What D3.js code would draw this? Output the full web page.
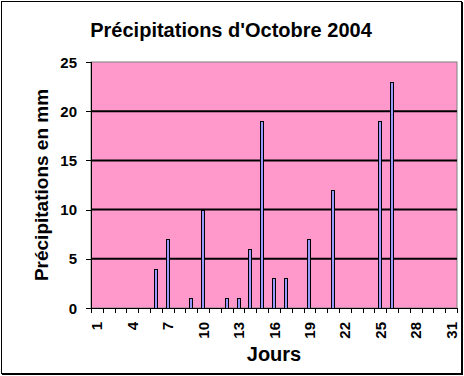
<!DOCTYPE html>
<html lang="fr">
<head>
<meta charset="UTF-8">
<title>Précipitations d'Octobre 2004</title>
<style>
  body, html { margin: 0; padding: 0; background: #fff; }
  text { font-family: "Liberation Sans", Arial, sans-serif; font-weight: bold; fill: #000; }
</style>
</head>
<body>
<svg id="svg" width="464" height="376"></svg>
<script src="https://d3js.org/d3.v7.min.js"></script>
<script>
// données
const days = d3.range(1, 32)
const rainDays = [6, 7, 9, 10, 12, 13, 14, 15, 16, 17, 19, 21, 25, 26]
const rainMm = [4, 7, 1, 10, 1, 1, 6, 19, 3, 3, 7, 12, 19, 23]
const yTicks = [0, 5, 10, 15, 20, 25]
const xLabels = [1, 4, 7, 10, 13, 16, 19, 22, 25, 28, 31]

const svg = d3.select('#svg')
const plotL = 91, plotR = 457, plotT = 62, plotB = 308

// cadre extérieur
svg.append('rect')
  .attr('x', 1.5).attr('y', 1.5)
  .attr('width', 460).attr('height', 372)
  .attr('fill', '#fff').attr('stroke', '#000').attr('stroke-width', 1)
svg.append('line').attr('x1', 462.5).attr('x2', 462.5).attr('y1', 2).attr('y2', 375)
  .attr('stroke', '#000')
svg.append('line').attr('x1', 2).attr('x2', 463).attr('y1', 374.5).attr('y2', 374.5)
  .attr('stroke', '#000')

const x = d3.scaleBand().domain(days).range([plotL, plotR]).padding(0)
const y = d3.scaleLinear().domain([0, 25]).range([plotB, plotT])

// zone de traçage
svg.append('rect')
  .attr('x', plotL).attr('y', plotT)
  .attr('width', plotR - plotL).attr('height', plotB - plotT)
  .attr('fill', '#FF99CC')
  .attr('stroke', '#808080').attr('stroke-width', 1)

// quadrillage
svg.append('g')
  .selectAll('line')
  .data(yTicks.filter(d => d > 0 && d < 25))
  .enter()
  .append('line')
  .attr('x1', plotL).attr('x2', plotR)
  .attr('y1', d => y(d)).attr('y2', d => y(d))
  .attr('stroke', '#000').attr('stroke-width', 2)

// barres
const barW = 4
svg.append('g')
  .selectAll('rect')
  .data(rainDays.map((d, i) => ({ day: d, mm: rainMm[i] })))
  .enter()
  .append('rect')
  .attr('x', d => Math.round(x(d.day) + x.bandwidth() / 2 - barW / 2) + 0.5)
  .attr('y', d => Math.round(y(d.mm)) + 0.5)
  .attr('width', barW - 1)
  .attr('height', d => Math.round(plotB - y(d.mm)))
  .attr('fill', '#9999FF')
  .attr('stroke', '#000').attr('stroke-width', 1)

// axe Y
svg.append('line')
  .attr('x1', plotL + 0.5).attr('x2', plotL + 0.5)
  .attr('y1', plotT).attr('y2', plotB)
  .attr('stroke', '#000')
const yAxis = svg.append('g')
yAxis.selectAll('line')
  .data(yTicks)
  .enter()
  .append('line')
  .attr('x1', plotL - 5).attr('x2', plotL)
  .attr('y1', d => Math.round(y(d)) + 0.5).attr('y2', d => Math.round(y(d)) + 0.5)
  .attr('stroke', '#000')
yAxis.selectAll('text')
  .data(yTicks)
  .enter()
  .append('text')
  .attr('x', 77)
  .attr('y', d => y(d) + 5.5)
  .attr('text-anchor', 'end')
  .style('font-size', '15px')
  .text(d => d)

// axe X
svg.append('line')
  .attr('x1', plotL).attr('x2', plotR)
  .attr('y1', plotB + 0.5).attr('y2', plotB + 0.5)
  .attr('stroke', '#000')
const xAxis = svg.append('g')
xAxis.selectAll('line')
  .data(days.concat([32]))
  .enter()
  .append('line')
  .attr('x1', d => Math.round(d <= 31 ? x(d) : plotR) + 0.5)
  .attr('x2', d => Math.round(d <= 31 ? x(d) : plotR) + 0.5)
  .attr('y1', plotB).attr('y2', plotB + 5)
  .attr('stroke', '#000')
xAxis.selectAll('text')
  .data(xLabels)
  .enter()
  .append('text')
  .attr('transform', d => `translate(${x(d) + x.bandwidth() / 2 + 5.5},${plotB + 14}) rotate(-90)`)
  .attr('text-anchor', 'end')
  .style('font-size', '15px')
  .text(d => d)

// titres
svg.append('text')
  .attr('x', 231).attr('y', 37)
  .attr('text-anchor', 'middle')
  .style('font-size', '20px')
  .text("Précipitations d'Octobre 2004")

svg.append('text')
  .attr('transform', `translate(48,${(plotT + plotB) / 2}) rotate(-90)`)
  .attr('text-anchor', 'middle')
  .style('font-size', '19px')
  .text('Précipitations en mm')

svg.append('text')
  .attr('x', (plotL + plotR) / 2).attr('y', 361)
  .attr('text-anchor', 'middle')
  .style('font-size', '20px')
  .text('Jours')
</script>
</body>
</html>
